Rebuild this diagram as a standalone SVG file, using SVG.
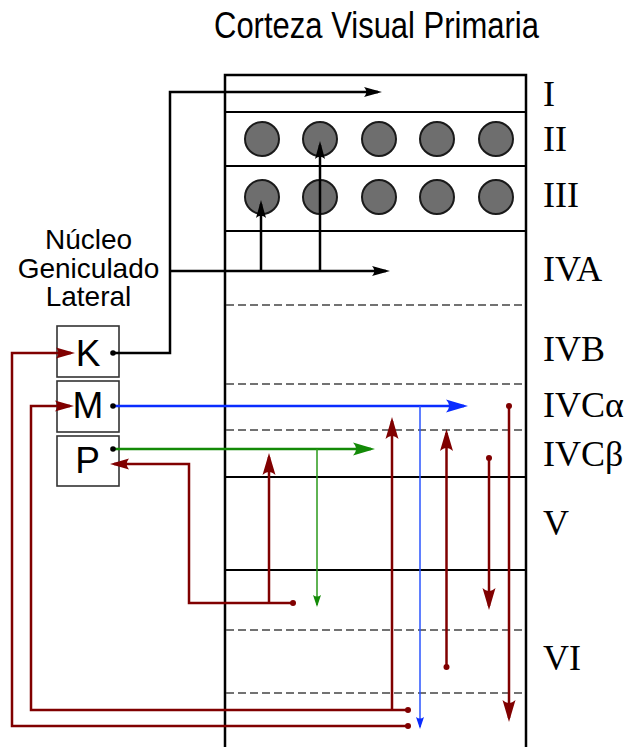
<svg xmlns="http://www.w3.org/2000/svg" width="626" height="747" viewBox="0 0 626 747">
<style>
.sans{font-family:"Liberation Sans",Arial,sans-serif;fill:#000}
.serif{font-family:"Liberation Serif","Times New Roman",serif;fill:#000;font-size:36px}
.border{fill:none;stroke:#000;stroke-width:2.5}
.solid{stroke:#000;stroke-width:2}
.dash{stroke:#444;stroke-width:1.5;stroke-dasharray:8,4}
.cell{fill:#6e6e6e;stroke:#1a1a1a;stroke-width:2}
.box{fill:#fff;stroke:#333;stroke-width:1.6}
.blk{fill:none;stroke:#000;stroke-width:2.5}
.red{fill:none;stroke:#800000;stroke-width:2.5}
.blue{fill:none;stroke:#0a2cff;stroke-width:2.5}
.bluet{fill:none;stroke:#2a55ff;stroke-width:1.5}
.green{fill:none;stroke:#138a07;stroke-width:2.5}
.greent{fill:none;stroke:#2a9a1a;stroke-width:1.5}
.rdot{fill:#800000}
.kdot{fill:#000}
</style>
<defs>
<marker id="aBlk" markerUnits="userSpaceOnUse" orient="auto" markerWidth="30" markerHeight="30" refX="0" refY="0" viewBox="-20 -10 30 20" overflow="visible">
<path d="M4,0 L-14,-5 C-11,-1.5 -11,1.5 -14,5 Z" fill="#000"/>
</marker>
<marker id="aRed" markerUnits="userSpaceOnUse" orient="auto" markerWidth="30" markerHeight="30" refX="0" refY="0" viewBox="-20 -10 30 20" overflow="visible">
<path d="M4,0 L-18,-6.5 C-14,-2 -14,2 -18,6.5 Z" fill="#800000"/>
</marker>
<marker id="aRedS" markerUnits="userSpaceOnUse" orient="auto" markerWidth="30" markerHeight="30" refX="0" refY="0" viewBox="-20 -10 30 20" overflow="visible">
<path d="M4,0 L-15,-5.5 C-12,-1.7 -12,1.7 -15,5.5 Z" fill="#800000"/>
</marker>
<marker id="aBlue" markerUnits="userSpaceOnUse" orient="auto" markerWidth="30" markerHeight="30" refX="0" refY="0" viewBox="-20 -10 30 20" overflow="visible">
<path d="M4,0 L-18,-6.5 C-14,-2 -14,2 -18,6.5 Z" fill="#0a2cff"/>
</marker>
<marker id="aBlueT" markerUnits="userSpaceOnUse" orient="auto" markerWidth="30" markerHeight="30" refX="0" refY="0" viewBox="-20 -10 30 20" overflow="visible">
<path d="M2,0 L-10,-4 C-8,-1.2 -8,1.2 -10,4 Z" fill="#0a2cff"/>
</marker>
<marker id="aGreen" markerUnits="userSpaceOnUse" orient="auto" markerWidth="30" markerHeight="30" refX="0" refY="0" viewBox="-20 -10 30 20" overflow="visible">
<path d="M4,0 L-18,-6.5 C-14,-2 -14,2 -18,6.5 Z" fill="#138a07"/>
</marker>
<marker id="aGreenT" markerUnits="userSpaceOnUse" orient="auto" markerWidth="30" markerHeight="30" refX="0" refY="0" viewBox="-20 -10 30 20" overflow="visible">
<path d="M2,0 L-10,-4 C-8,-1.2 -8,1.2 -10,4 Z" fill="#138a07"/>
</marker>
</defs>
<rect width="626" height="747" fill="#fff"/>

<text class="sans" x="0" y="0" font-size="31" text-anchor="middle" transform="translate(376.5,38) scale(1,1.2)">Corteza Visual Primaria</text>

<g id="cortex">
<path class="border" d="M225,750 V75 H526 V750"/>
<line class="solid" x1="225" y1="112" x2="526" y2="112"/>
<line class="solid" x1="225" y1="166" x2="526" y2="166"/>
<line class="solid" x1="225" y1="231" x2="526" y2="231"/>
<line class="dash" x1="226" y1="305" x2="525" y2="305"/>
<line class="dash" x1="226" y1="384" x2="525" y2="384"/>
<line class="dash" x1="226" y1="430" x2="525" y2="430"/>
<line class="solid" x1="225" y1="477" x2="526" y2="477"/>
<line class="solid" x1="225" y1="570" x2="526" y2="570"/>
<line class="dash" x1="226" y1="630" x2="525" y2="630"/>
<line class="dash" x1="226" y1="693" x2="525" y2="693"/>
</g>

<g id="cells">
<circle class="cell" cx="262" cy="139" r="17"/>
<circle class="cell" cx="320" cy="139" r="17"/>
<circle class="cell" cx="379" cy="139" r="17"/>
<circle class="cell" cx="437" cy="139" r="17"/>
<circle class="cell" cx="496" cy="139" r="17"/>
<circle class="cell" cx="262" cy="197" r="17"/>
<circle class="cell" cx="320" cy="197" r="17"/>
<circle class="cell" cx="379" cy="197" r="17"/>
<circle class="cell" cx="437" cy="197" r="17"/>
<circle class="cell" cx="496" cy="197" r="17"/>
</g>

<g id="layer-labels">
<text class="serif" x="543" y="106">I</text>
<text class="serif" x="543" y="151">II</text>
<text class="serif" x="543" y="207">III</text>
<text class="serif" x="543" y="281">IVA</text>
<text class="serif" x="543" y="361">IVB</text>
<text class="serif" x="543" y="417">IVCα</text>
<text class="serif" x="543" y="466">IVCβ</text>
<text class="serif" x="543" y="535">V</text>
<text class="serif" x="543" y="670">VI</text>
</g>

<g id="lgn-label">
<text class="sans" x="88.5" y="249" font-size="28" text-anchor="middle">Núcleo</text>
<text class="sans" x="88.5" y="278" font-size="28" text-anchor="middle">Geniculado</text>
<text class="sans" x="88.5" y="306" font-size="28" text-anchor="middle">Lateral</text>
</g>

<g id="node-K">
<rect class="box" x="57" y="326" width="62" height="51"/>
<text class="sans" x="88" y="366" font-size="37" text-anchor="middle">K</text>
</g>
<g id="node-M">
<rect class="box" x="57" y="381" width="62" height="51"/>
<text class="sans" x="88" y="418" font-size="37" text-anchor="middle">M</text>
</g>
<g id="node-P">
<rect class="box" x="57" y="436" width="62" height="50"/>
<text class="sans" x="87.5" y="473" font-size="37" text-anchor="middle">P</text>
</g>

<g id="connectors">
<!-- black K pathway -->
<path class="blk" d="M113,353 H170 V92 H378" marker-end="url(#aBlk)"/>
<path class="blk" d="M170,271 H386" marker-end="url(#aBlk)"/>
<path class="blk" d="M261,271 V204" marker-end="url(#aBlk)"/>
<path class="blk" d="M320,271 V145" marker-end="url(#aBlk)"/>
<circle class="kdot" cx="113" cy="353" r="2.8"/>
<!-- blue M pathway -->
<path class="blue" d="M113,406 H464" marker-end="url(#aBlue)"/>
<path class="bluet" d="M420,406 V727" marker-end="url(#aBlueT)"/>
<circle class="kdot" cx="113" cy="406" r="2.8"/>
<!-- green P pathway -->
<path class="green" d="M113,449 H371" marker-end="url(#aGreen)"/>
<path class="greent" d="M317,449 V605" marker-end="url(#aGreenT)"/>
<circle class="kdot" cx="113" cy="449" r="2.8"/>
<!-- red feedback to P -->
<path class="red" d="M293,603 H189 V464 H114" marker-end="url(#aRedS)"/>
<path class="red" d="M269,603 V457" marker-end="url(#aRed)"/>
<circle class="rdot" cx="293" cy="603" r="3"/>
<!-- red feedback to M -->
<path class="red" d="M408,710 H31 V406 H70" marker-end="url(#aRedS)"/>
<path class="red" d="M392,710 V421" marker-end="url(#aRed)"/>
<circle class="rdot" cx="408" cy="710" r="3"/>
<!-- red feedback to K -->
<path class="red" d="M408,726 H12 V353 H71" marker-end="url(#aRedS)"/>
<circle class="rdot" cx="408" cy="726" r="3"/>
<!-- red intracortical -->
<path class="red" d="M446.5,667 V433" marker-end="url(#aRed)"/>
<circle class="rdot" cx="446.5" cy="667" r="3"/>
<path class="red" d="M489,458 V606" marker-end="url(#aRed)"/>
<circle class="rdot" cx="489" cy="458" r="3"/>
<path class="red" d="M509,406 V718" marker-end="url(#aRed)"/>
<circle class="rdot" cx="509" cy="406" r="3"/>
</g>
</svg>
